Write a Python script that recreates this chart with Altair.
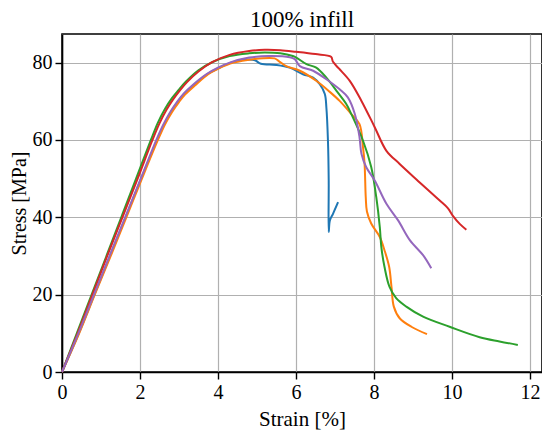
import altair as alt
import pandas as pd

# ---- data ----
blue_x = [0, 0.43, 0.83, 1.23, 1.63, 2.03, 2.44, 2.62, 2.8, 2.98, 3.14, 3.38, 3.72, 4.0, 4.4, 4.8, 4.95, 5.1, 5.5, 5.84, 6.18, 6.44, 6.61, 6.74, 6.78, 6.82, 6.84, 6.84, 6.87, 6.95, 7.08]
blue_y = [0, 10, 20, 30, 40, 50, 60, 64, 67.3, 70, 72, 74.2, 77, 78.5, 80.2, 80.8, 80.6, 79.7, 79.4, 78.7, 77.0, 76.1, 74.4, 71.9, 68.4, 60, 49.5, 36.2, 39.2, 40.9, 43.9]

orange_x = [0, 0.44, 0.84, 1.25, 1.65, 2.05, 2.46, 2.64, 2.82, 3.0, 3.16, 3.4, 3.75, 4.0, 4.4, 4.9, 5.45, 5.56, 5.75, 6.1, 6.52, 6.86, 7.12, 7.42, 7.63, 7.72, 7.76, 7.79, 7.82, 7.93, 8.15, 8.27, 8.39, 8.45, 8.51, 8.66, 8.96, 9.36]
orange_y = [0, 10, 20, 30, 40, 50, 60, 64, 67.2, 69.8, 71.8, 74, 77, 78.4, 80, 80.9, 81.1, 80.4, 79.1, 77.9, 75.3, 72.5, 70.1, 66.7, 64.1, 58.1, 53.8, 45.2, 41.5, 38.4, 34.9, 31.5, 27.2, 22.0, 16.9, 13.9, 11.7, 9.8]

green_x = [0, 0.38, 0.76, 1.14, 1.52, 1.9, 2.28, 2.46, 2.64, 2.82, 2.98, 3.18, 3.5, 3.85, 4.3, 4.8, 5.2, 5.6, 5.92, 6.01, 6.27, 6.52, 6.78, 7.04, 7.29, 7.42, 7.72, 7.93, 8.06, 8.15, 8.19, 8.27, 8.4, 8.57, 8.83, 9.26, 9.94, 10.71, 11.22, 11.69]
green_y = [0, 10, 20, 30, 40, 50, 60, 64.5, 68, 70.8, 72.8, 75.1, 78, 80.1, 81.7, 82.4, 82.6, 82.4, 81.7, 81.3, 79.6, 78.7, 76.1, 72.7, 69.3, 66.7, 59.8, 53.0, 45.2, 37.5, 32.3, 27.2, 22.0, 19.1, 16.9, 14.3, 11.7, 9.0, 7.9, 7.0]

red_x = [0, 0.4, 0.78, 1.16, 1.55, 1.94, 2.32, 2.5, 2.68, 2.85, 3.0, 3.2, 3.5, 3.85, 4.3, 4.8, 5.2, 5.6, 6.0, 6.5, 6.9, 6.95, 7.1, 7.38, 7.68, 8.02, 8.32, 8.66, 9.09, 9.68, 9.9, 10.03, 10.2, 10.37]
red_y = [0, 10, 20, 30, 40, 50, 60, 64.3, 67.8, 70.5, 72.5, 74.9, 77.7, 80.1, 82, 83, 83.3, 83.2, 82.8, 82.2, 81.5, 80.2, 78.5, 75.3, 70.1, 63.3, 57.2, 53.8, 49.8, 44.4, 42.3, 40.3, 38.3, 36.8]

purple_x = [0, 0.42, 0.82, 1.22, 1.62, 2.02, 2.42, 2.6, 2.78, 2.96, 3.12, 3.36, 3.7, 4.0, 4.3, 4.8, 5.3, 5.84, 5.97, 6.1, 6.44, 6.78, 7.12, 7.33, 7.51, 7.63, 7.68, 7.8, 8.02, 8.32, 8.62, 8.92, 9.26, 9.47]
purple_y = [0, 10, 20, 30, 40, 50, 60, 64, 67.3, 70, 72, 74.3, 77, 78.7, 80, 81.3, 81.7, 81.4, 80.9, 79.1, 77.9, 75.7, 73.1, 71.0, 66.7, 60.7, 56.4, 53.0, 49.5, 43.5, 39.2, 34.1, 30.2, 26.8]

x_ticks = [0, 2, 4, 6, 8, 10, 12]
y_ticks = [0, 20, 40, 60, 80]

series = [
    (blue_x, blue_y, "#1f77b4"),
    (orange_x, orange_y, "#ff7f0e"),
    (green_x, green_y, "#2ca02c"),
    (red_x, red_y, "#d62728"),
    (purple_x, purple_y, "#9467bd"),
]

FONT = "Liberation Serif"

x_enc = alt.X(
    "strain:Q",
    scale=alt.Scale(domain=[0, 12.31], nice=False, zero=False),
    axis=alt.Axis(values=x_ticks, title="Strain [%]", format="d", labelFlush=False),
)
y_enc = alt.Y(
    "stress:Q",
    scale=alt.Scale(domain=[0, 87.4], nice=False, zero=False),
    axis=alt.Axis(values=y_ticks, title="Stress [MPa]", format="d", labelFlush=False),
)

layers = []
for xs, ys, col in series:
    df = pd.DataFrame({"strain": xs, "stress": ys, "i": list(range(len(xs)))})
    layers.append(
        alt.Chart(df)
        .mark_line(color=col, strokeWidth=2, interpolate="catmull-rom")
        .encode(x=x_enc, y=y_enc, order="i:Q")
    )

chart = (
    alt.layer(*layers)
    .properties(
        width=480,
        height=338,
        title=alt.TitleParams("100% infill", font=FONT, fontSize=23, fontWeight="normal", offset=2, color="black"),
        padding={"left": 54, "top": 26, "right": 0, "bottom": 62},
        autosize=alt.AutoSizeParams(type="none"),
    )
    .configure_view(stroke="black", strokeWidth=1.6)
    .configure_axis(
        labelFont=FONT,
        labelFontSize=20,
        labelColor="black",
        titleFont=FONT,
        titleFontSize=21,
        titleFontWeight="normal",
        titleColor="black",
        domainColor="black",
        domainWidth=1.6,
        tickColor="black",
        tickSize=7,
        tickWidth=1.4,
        labelPadding=3,
        gridColor="#b0b0b0",
        gridWidth=1.2,
    )
    .configure_axisX(titlePadding=6)
    .configure_axisY(titlePadding=3, titleFontSize=20)
)

chart.save("out.html", embed_options={"renderer": "svg", "actions": False})
